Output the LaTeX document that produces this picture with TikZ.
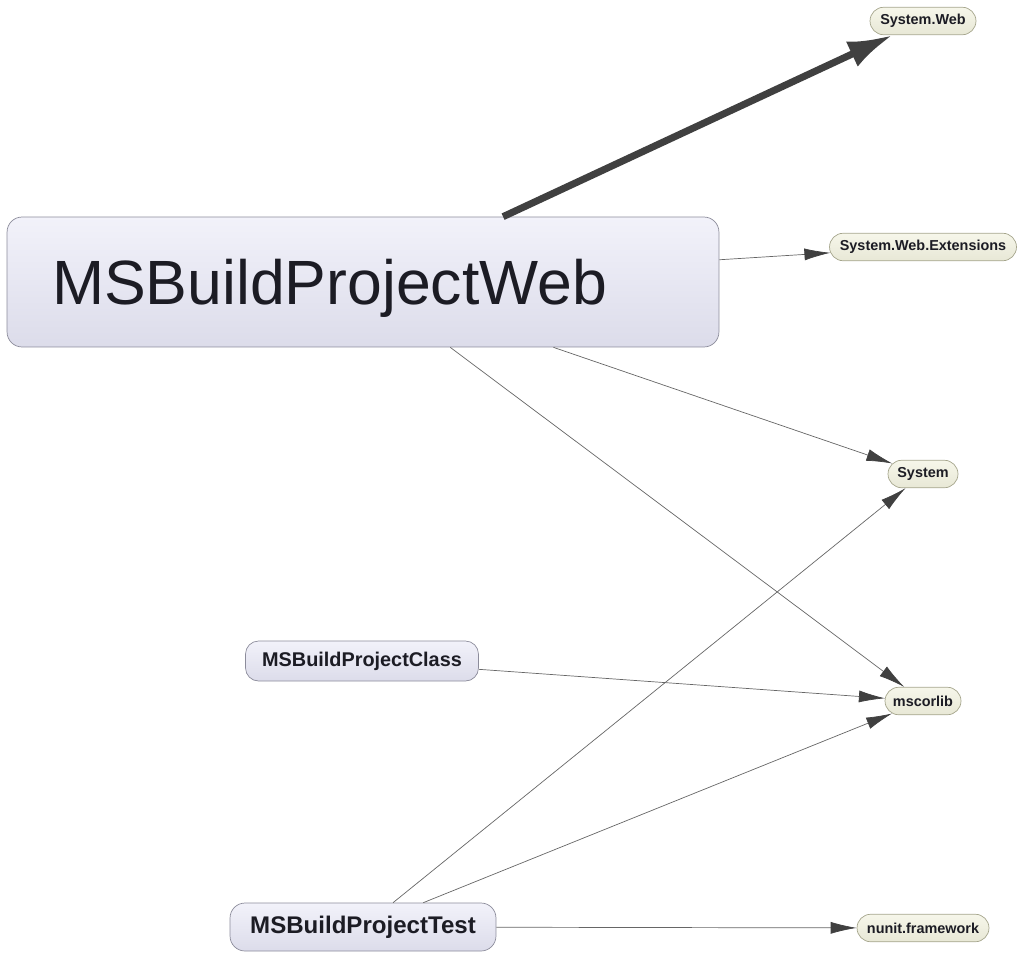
\documentclass[tikz,border=0pt]{standalone}
\usepackage{fontspec}
\setmainfont{Liberation Sans}
\usetikzlibrary{arrows.meta,shapes.misc}
\definecolor{projtop}{RGB}{242,242,250}
\definecolor{projbot}{RGB}{220,220,234}
\definecolor{projline}{RGB}{140,140,155}
\definecolor{reftop}{RGB}{246,246,234}
\definecolor{refbot}{RGB}{232,232,214}
\definecolor{refline}{RGB}{165,165,140}
\definecolor{edgegray}{RGB}{64,64,64}
\definecolor{labelink}{RGB}{28,28,36}
\begin{document}
\begin{tikzpicture}[x=0.02cm,y=-0.02cm]
        \tikzset{
        proj/.style={rectangle, rounded corners=0.3cm, draw=projline, top color=projtop, bottom color=projbot, text=labelink, inner sep=0pt},
        ref/.style={rounded rectangle, draw=refline, top color=reftop, bottom color=refbot, text=labelink, inner sep=0pt, minimum height=0.55cm, font=\fontsize{8.2}{9}\selectfont\bfseries},
        uses/.style={-{Latex[length=0.52cm,width=0.24cm,color=edgegray]}, draw=edgegray!80, line width=0.4pt},
        heavy/.style={-{Latex[length=0.9cm,width=0.55cm]}, draw=edgegray, line width=4pt}
        }
        \useasboundingbox (0,0) rectangle (1024,957);
        \node[proj, minimum width=14.24cm, minimum height=2.6cm, inner xsep=0.9cm, text width=12.44cm, text depth=0pt, align=left, font=\fontsize{35.6}{40}\selectfont] (web) at (363,282) {MSBuildProjectWeb};
        \node[proj, minimum width=4.66cm, minimum height=0.8cm, rounded corners=0.26cm, font=\fontsize{11.3}{13}\selectfont\bfseries] (cls) at (362,661) {MSBuildProjectClass};
        \node[proj, minimum width=5.32cm, minimum height=0.96cm, font=\fontsize{13.7}{15}\selectfont\bfseries] (tst) at (363,927) {MSBuildProjectTest};

        \node[ref, minimum width=2.12cm] (sweb) at (923,21) {System.Web};
        \node[ref, minimum width=3.74cm] (sext) at (923,247) {System.Web.Extensions};
        \node[ref, minimum width=1.4cm] (sys) at (923,474) {System};
        \node[ref, minimum width=1.52cm] (mscl) at (923,701) {mscorlib};
        \node[ref, minimum width=2.64cm] (nunit) at (923,928) {nunit.framework};

        \draw[heavy] (web) -- (sweb);
        \draw[uses] (web) -- (sext);
        \draw[uses] (web) -- (sys);
        \draw[uses] (web) -- (mscl);
        \draw[uses] (cls) -- (mscl);
        \draw[uses] (tst) -- (sys);
        \draw[uses] (tst) -- (mscl);
        \draw[uses] (tst) -- (nunit);
        \end{tikzpicture}
\end{document}
